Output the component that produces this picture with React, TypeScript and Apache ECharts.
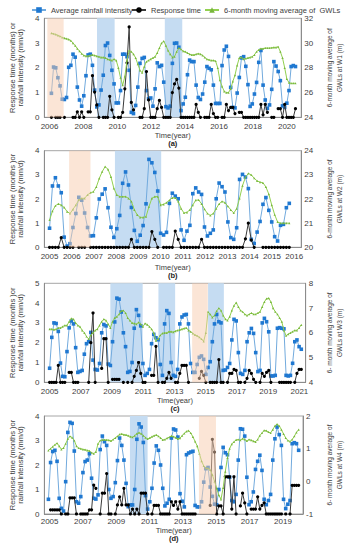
import React, { useEffect, useRef } from "react";
import * as echarts from "echarts";

// ---------- Panel (a) W1 ----------
const spanA = [2006.11, 2020.51];
const blueA = [0.97,2.03,2.0,1.6,1.27,0.73,0.72,0.8,2.02,2.1,
 2.55,2.43,1.22,0.7,0.45,0.87,1.68,2.52,2.55,2.1,
 1.1,0.42,0.5,1.1,1.7,2.9,3.0,2.5,1.9,1.35,
 0.58,0.58,1.08,2.55,2.55,2.45,1.9,0.2,0.15,0.48,
 1.22,2.18,2.38,2.42,1.08,0.75,0.78,0.45,1.15,2.2,
 2.05,2.1,1.42,0.43,0.38,0.45,2.18,2.99,3.0,2.83,
 0.27,0.54,0.81,1.72,2.31,2.25,2.25,1.3,0.8,0.72,
 0.94,1.42,2.05,1.98,1.92,1.3,0.56,0.56,0.56,2.09,
 2.72,2.87,2.46,1.21,0.4,0.38,0.98,1.61,2.4,2.45,
 2.06,1.32,0.44,0.54,0.94,1.41,2.22,2.7,1.3,0.7,
 0.36,0.5,1.13,2.25,2.07,1.85,1.48,0.46,0.4,0.57,
 1.08,2.05,2.09,2.05];
const blackA = [0,null,0,0,0,null,0,null,null,null,
 0,0,0.22,0,0.22,0,null,0.22,0.22,1.68,
 1.02,0.5,0,null,0,0,0,0.85,0.3,0,
 null,0,0,0.2,1.15,2.2,3.65,0.6,0.3,null,
 null,0,0,0.35,1.85,0.7,0,0,0,0.35,
 0.68,0.4,0,0,0,0,1.0,1.35,1.53,1.18,
 0,0,0,0,0,0,0,0.52,0.2,0,
 null,0,0,0,0.52,0.15,0,0,null,0,
 0,0.52,0.27,0.4,0.4,0.15,null,0.2,0.2,0,
 0,0,0,0,0,0,0,0.52,0.1,0.52,
 0.2,null,0,0,null,0.35,0.35,0,0.52,0,
 0,0,0,0.35];
const greenA = [30.8,30.75,30.7,30.62,30.55,30.45,30.4,30.35,30.3,30.2,
 30.0,29.8,29.55,29.35,29.15,29.0,28.95,28.95,29.0,29.05,
 29.0,28.95,28.9,28.85,28.85,28.8,28.7,28.65,28.6,28.7,
 28.6,28.0,27.2,26.6,27.3,28.6,29.4,29.3,29.1,28.8,
 28.3,27.8,27.6,28.1,28.5,28.6,28.7,28.8,28.9,29.2,
 29.6,30.0,30.15,29.8,29.4,29.1,28.85,28.9,29.3,29.6,
 29.5,29.35,29.3,29.2,29.1,29.05,29.05,29.1,29.15,29.1,
 29.0,28.85,28.7,28.65,28.6,28.6,28.55,28.0,27.0,26.5,
 26.1,26.0,26.0,26.3,26.9,27.4,28.2,28.8,28.85,28.7,
 28.75,28.8,28.85,28.9,29.05,29.3,29.45,29.55,29.55,29.6,
 29.6,29.6,29.62,29.65,29.65,29.7,29.3,28.8,28.0,27.1,
 26.8,26.75,26.75,26.75];
const bandsA = [
  { from: 2005.87, to: 2006.83, kind: "orange" },
  { from: 2008.8, to: 2009.84, kind: "blue" },
  { from: 2012.8, to: 2013.83, kind: "blue" },
];

// ---------- Panel (b) W2 ----------
const spanB = [2005.0, 2015.78];
const blueB = [0.79,2.54,2.88,2.54,2.26,0.42,0.05,0.15,0.82,1.4,
 2.07,1.95,1.42,0.82,0.47,0.48,1.22,2.0,2.2,2.42,
 1.64,0.83,0.41,0.77,1.32,2.65,3.12,2.58,1.65,0.7,
 0.25,0.5,0.9,1.8,3.64,3.5,3.1,2.33,0.58,0.51,
 0.62,1.82,2.24,2.12,2.01,0.72,0.29,0.67,0.91,2.22,
 2.46,2.29,2.19,0.84,0.47,0.58,0.72,2.01,2.66,2.51,
 2.29,1.05,0.4,0.33,0.81,2.81,3.02,2.91,2.43,0.33,
 0.16,0.63,1.07,1.78,2.06,1.53,1.05,0.44,0.26,0.91,
 0.95,1.64,1.82];
const blackB = [0,0,0,0,0.4,0,0,0,0,null,
 0,0,0,null,0,0,0,0,0,0,
 0,0,0,0,0,0,0,0,0.33,0,
 0,0,0,0,0,0.65,0.33,0,null,0,
 0,0,0,0.67,0.33,0,0,0,0,0,
 0,0,0.33,0,0,0,0,0,0,0,
 0,0,0,0,0,0,0,0.35,1.0,0.3,
 0,null,null,0,0,0,0,0,0,0,
 0,0,0];
const greenB = [21.13,21.5,21.72,21.8,21.75,21.65,21.48,21.4,21.57,21.75,
 21.96,22.03,22.03,22.17,22.26,22.3,22.5,22.85,23.13,23.34,
 23.23,22.92,22.44,22.17,22.1,22.1,22.1,22.03,21.9,21.55,
 21.34,21.24,21.24,21.27,21.68,22.03,22.1,22.1,21.75,21.78,
 21.85,21.95,22.05,22.05,21.9,21.6,21.42,21.45,21.55,21.75,
 21.95,21.96,21.8,21.58,21.4,21.32,21.4,21.6,21.8,21.9,
 21.85,21.7,21.55,21.42,21.6,22.03,22.55,22.9,23.06,23.0,
 22.86,22.75,22.7,22.67,22.5,22.2,21.75,21.35,21.05,21.0,
 21.0,21.0,21.0];
const bandsB = [
  { from: 2005.88, to: 2006.84, kind: "orange" },
  { from: 2007.94, to: 2010.02, kind: "blue" },
];

// ---------- Panel (c) W3 ----------
const spanC = [2005.0, 2021.12];
const blueC = [0.71,2.27,3.0,2.97,2.57,0.97,0.3,0.28,1.55,2.75,
 3.1,2.95,1.75,0.5,0.55,0.6,1.42,1.95,2.05,2.52,
 1.12,0.65,0.62,0.95,2.5,2.92,2.85,0.92,0.85,2.05,
 3.05,4.25,4.2,3.55,2.5,1.8,0.5,0.55,1.0,2.73,
 3.67,3.38,2.85,0.95,0.35,0.45,0.65,1.95,2.42,2.25,
 2.15,0.9,0.35,2.95,3.62,3.48,1.0,0.35,0.3,0.65,
 2.95,3.3,3.4,3.43,2.95,0.95,0.5,0.5,0.9,1.26,
 1.33,1.16,0.4,0.75,1.04,2.05,2.95,3.43,3.06,3.0,
 0.6,0.62,0.75,0.95,2.14,3.18,3.1,1.5,0.45,0.4,
 0.6,2.05,2.5,2.72,2.47,1.5,0.54,0.6,3.0,3.23,
 3.06,2.55,0.32,0.32,0.35,2.73,2.76,2.73,2.7,0.35,
 0.32,0.35,0.96,2.05,2.14,1.8,1.67];
const blackC = [0,0,0,0,0.85,0,0,0,null,0.5,
 0.5,0,0,0,null,null,null,null,0,2.0,
 3.5,0,null,null,0.7,2.2,2.2,0,null,0.15,
 0.15,0.15,0.15,null,0,null,0,null,0,0.3,
 0.6,1.0,0.45,0,0,null,null,0.35,0.35,1.82,
 0,null,0,0,0.2,0.5,0.2,null,0,0,
 0.45,0.85,0.85,0.85,0,null,null,null,null,0.2,
 0.55,0.35,0,null,0,0,0,0,1.15,0,
 0,null,0,0.45,0.45,0.65,0.6,0,0,null,
 0,0.2,0.6,0.45,0.15,0,null,0,0.45,0.3,
 0.5,0.6,0,null,null,null,0,0,0,0,
 0,0,null,0,0.45,0.65,0.65];
const greenC = [6.15,6.15,6.13,6.15,6.2,6.2,6.25,6.3,6.3,6.45,
 6.58,6.55,6.4,6.3,6.25,6.1,6.0,5.85,5.75,5.9,
 6.0,6.1,6.15,6.3,6.45,6.55,6.5,6.35,6.2,6.45,
 6.6,6.65,6.75,6.88,6.9,6.8,6.6,6.5,6.4,6.38,
 6.35,6.42,6.35,6.25,6.38,6.33,6.25,6.15,6.0,5.68,
 5.75,5.9,5.98,6.0,6.0,6.05,6.05,6.03,6.07,6.1,
 6.12,6.15,6.18,6.2,6.1,6.05,5.98,5.92,5.88,5.82,
 5.75,5.65,6.0,6.85,6.75,6.62,6.7,6.88,7.0,6.9,
 6.7,6.55,6.5,6.65,6.9,7.1,7.22,7.05,6.9,6.85,
 6.75,6.7,6.75,6.8,6.75,6.75,6.8,6.85,7.05,7.25,
 7.38,7.4,7.25,7.0,6.85,6.75,6.6,6.45,6.1,5.88,
 5.95,6.0,6.05,6.1,6.1,6.2,6.32];
const bandsC = [
  { from: 2008.89, to: 2010.96, kind: "blue" },
  { from: 2011.97, to: 2013.04, kind: "blue" },
  { from: 2014.13, to: 2015.13, kind: "orange" },
  { from: 2015.15, to: 2016.16, kind: "blue" },
];

// ---------- Panel (d) W4 ----------
const spanD = [2004.93, 2019.94];
const blueD = [0.6,2.1,2.55,2.6,2.15,0.64,0.23,0.12,1.32,3.33,
 3.74,3.7,2.57,0.5,0.44,0.71,1.69,2.14,2.2,2.46,
 1.46,0.64,0.61,0.78,2.63,3.18,2.95,2.8,1.0,0.64,
 0.71,1.28,2.18,3.1,2.8,2.2,1.25,0.3,0.37,0.37,
 1.0,3.05,3.68,3.55,2.92,0.75,0.2,0.5,1.05,2.08,
 2.78,2.6,2.0,1.05,0.33,0.44,0.6,3.1,3.47,3.43,
 3.14,0.83,0.52,0.29,2.42,2.49,2.53,2.56,0.35,0.29,
 0.29,0.5,1.3,1.85,1.9,1.1,0.72,0.4,0.38,1.0,
 1.9,2.72,2.5,2.42,1.5,0.55,0.5,0.8,2.2,3.48,
 3.46,3.18,1.5,0.38,0.5,0.9,1.82,2.15,2.4,1.78,
 0.6,0.38,0.55,0.8,2.2,3.07,3.55,3.24,2.8,0.6,
 0.22,0.4,0.55,2.87,2.91,2.87,2.6];
const blackD = [null,0.17,0.17,0.17,0.17,0.17,0,null,0,0,
 0.66,0.66,0.66,0,null,0,0,0,0,0.17,
 0.17,1.18,1.05,null,0,0.85,0.85,1.65,0,0,
 null,0,0.37,0.7,0.37,1.05,0.37,0.37,0,0.2,
 0,0.2,0,0.85,0.85,0.85,0,null,0,0.35,
 0.35,0.35,0,0,0,0,0,0.5,0.35,0.5,
 0.2,0.5,0,0,0,0,0,0,0,null,
 null,null,null,null,null,0.35,3.05,2.53,0,0.33,
 0.33,0,1.52,1.52,1.52,0.2,1.52,0,null,0.33,
 0.85,0.45,0,null,0.2,0.2,0.2,0.7,0.2,0.35,
 0.45,0,0,0,0,0,0,0,0,null,
 0,null,0,1.17,1.17,1.17,1.17];
const greenD = [0.95,1.0,1.06,1.12,1.17,1.08,0.98,1.02,1.15,1.3,
 1.38,1.34,1.25,1.08,1.02,1.0,0.98,0.97,0.95,0.93,
 0.88,0.85,0.9,1.15,1.25,1.27,1.27,1.27,1.26,1.24,
 1.28,1.33,1.38,1.44,1.45,1.43,1.42,1.4,1.37,1.35,
 1.4,1.46,1.49,1.46,1.4,1.34,1.3,1.33,1.37,1.4,
 1.42,1.38,1.33,1.27,1.28,1.32,1.35,1.39,1.37,1.34,
 1.3,1.32,1.4,1.47,1.53,1.55,1.48,1.36,1.22,1.08,
 0.85,0.62,0.47,0.4,0.4,0.35,0.2,0.0,-0.22,-0.42,
 -0.55,-0.2,0.3,0.72,1.0,1.14,1.21,1.27,1.28,1.26,
 1.31,1.28,1.24,1.28,1.26,1.23,1.21,1.28,1.4,1.48,
 1.56,1.55,1.51,1.48,1.58,1.7,1.75,1.7,1.58,1.45,
 1.33,1.25,1.22,1.28,1.38,1.5,1.58];
const bandsD = [
  { from: 2009.82, to: 2010.88, kind: "blue" },
  { from: 2013.96, to: 2014.98, kind: "orange" },
];

const NAME_BLUE = "Average rainfall intensity";
const NAME_BLACK = "Response time";
const NAME_GREEN = "6-month moving average of  GWLs";

const FONT = "'Liberation Sans', Arial, sans-serif";
const TXT = "#404040";
const AXIS = "#8c8c8c";

function pairs(vals: (number | null)[], n: number, span: number[]) {
  const out: (number | null)[][] = [];
  for (let i = 0; i < n; i++) {
    const x = span[0] + ((span[1] - span[0]) * i) / (n - 1);
    out.push([x, vals[i] === undefined ? null : vals[i]]);
  }
  return out;
}

const panels = [
  { tag: "(a)", top: 18.3, height: 99, right: 37, xMin: 2005.693, xMax: 2020.848, step: 2, parity: 0,
    leftMax: 4, rMin: 24, rMax: 32, rInt: 2, blue: blueA, black: blackA, green: greenA, span: spanA, bands: bandsA,
    leftName: "Response time (months) or\nrainfall intensity (mm/d)", rightName: "6-month moving average of\nGWLs at W1 (m)",
    xNameGap: 11.8, labelMargin: 5 },
  { tag: "(b)", top: 150.7, height: 96.6, right: 37, xMin: 2004.766, xMax: 2016.316, step: 1, parity: 0,
    leftMax: 4, rMin: 20, rMax: 24, rInt: 1, blue: blueB, black: blackB, green: greenB, span: spanB, bands: bandsB,
    leftName: "Response time (months )or\nrainfall intensity (mm/d)", rightName: "6-month moving average of\nGWLs at W2 (m)",
    xNameGap: 16, labelMargin: 5 },
  { tag: "(c)", top: 283.3, height: 99, right: 36, xMin: 2004.662, xMax: 2021.4, step: 2, parity: 1,
    leftMax: 5, rMin: 4, rMax: 8, rInt: 1, blue: blueC, black: blackC, green: greenC, span: spanC, bands: bandsC,
    leftName: "Response time (months )or\nrainfall intensity (mm/d)", rightName: "6- month moving average of\nGWLs at W3 (m)",
    xNameGap: 11.2, labelMargin: 5.5 },
  { tag: "(d)", top: 416, height: 98, right: 37, xMin: 2004.686, xMax: 2020.2, step: 2, parity: 1,
    leftMax: 4, rMin: -1, rMax: 2, rInt: 1, blue: blueD, black: blackD, green: greenD, span: spanD, bands: bandsD,
    leftName: "Response time (months )or\nrainfall intensity (mm/d)", rightName: "6- month moving average of\nGWLs at W4 (m)",
    xNameGap: 10.2, labelMargin: 3.5 },
];

export default function App() {
  const ref = useRef<HTMLDivElement>(null);
  useEffect(() => {
    const chart = echarts.init(ref.current as HTMLDivElement, undefined, { renderer: "svg" });
    const grid: any[] = [];
    const xAxis: any[] = [];
    const yAxis: any[] = [];
    const series: any[] = [];
    panels.forEach((p, k) => {
      grid.push({ left: 35, right: p.right, top: p.top, height: p.height, show: true, borderColor: "#a6a6a6", borderWidth: 1 });
      xAxis.push({
        type: "value", gridIndex: k, min: p.xMin, max: p.xMax, minInterval: 1, maxInterval: 1,
        axisLine: { show: true, lineStyle: { color: AXIS } }, axisTick: { show: false }, splitLine: { show: false },
        axisLabel: {
          fontSize: 8, color: TXT, fontFamily: FONT, margin: p.labelMargin,
          formatter: (v: number) => {
            const r = Math.round(v);
            if (Math.abs(v - r) > 1e-6) return "";
            if (p.step === 2 && (((r % 2) + 2) % 2) !== p.parity) return "";
            return String(r);
          },
        },
        name: "{t|Time(year)}\n{b|" + p.tag + "}", nameLocation: "middle", nameGap: p.xNameGap,
        nameTextStyle: {
          fontFamily: FONT, color: TXT, fontSize: 7.5,
          rich: {
            t: { fontSize: 7.5, lineHeight: 8.3, color: TXT, fontFamily: FONT },
            b: { fontSize: 7.5, lineHeight: 8.3, color: "#222", fontWeight: "bold", fontFamily: FONT },
          },
        },
      });
      yAxis.push({
        type: "value", gridIndex: k, position: "left", min: 0, max: p.leftMax, interval: 1,
        axisLine: { show: true, lineStyle: { color: AXIS } }, axisTick: { show: false }, splitLine: { show: false },
        axisLabel: { fontSize: 8, color: TXT, fontFamily: FONT, margin: 5 },
        name: p.leftName, nameLocation: "middle", nameGap: 11,
        nameTextStyle: { fontSize: 7.5, lineHeight: 8, color: TXT, fontFamily: FONT },
      });
      yAxis.push({
        type: "value", gridIndex: k, position: "right", min: p.rMin, max: p.rMax, interval: p.rInt,
        axisLine: { show: true, lineStyle: { color: AXIS } }, axisTick: { show: false }, splitLine: { show: false },
        axisLabel: { fontSize: 8, color: TXT, fontFamily: FONT, margin: 3 },
        name: p.rightName, nameLocation: "middle", nameGap: 13,
        nameTextStyle: { fontSize: 6.5, lineHeight: 10, color: TXT, fontFamily: FONT },
      });
      const n = p.blue.length;
      series.push({
        name: NAME_BLUE, type: "line", xAxisIndex: k, yAxisIndex: 2 * k, data: pairs(p.blue, n, p.span),
        symbol: "rect", symbolSize: 3.6, lineStyle: { color: "#72aadd", width: 1 }, itemStyle: { color: "#1f78d1" }, z: 3,
      });
      series.push({
        name: NAME_BLACK, type: "line", xAxisIndex: k, yAxisIndex: 2 * k, data: pairs(p.black, n, p.span),
        symbol: "circle", symbolSize: 3.2, connectNulls: false, lineStyle: { color: "#3a3a3a", width: 1 }, itemStyle: { color: "#000" }, z: 4,
      });
      series.push({
        name: NAME_GREEN, type: "line", xAxisIndex: k, yAxisIndex: 2 * k + 1, data: pairs(p.green, n, p.span),
        symbol: "triangle", symbolSize: 2.2, lineStyle: { color: "#92d050", width: 1 }, itemStyle: { color: "#78b63c" }, z: 5,
      });
      const blueBands = p.bands.filter((b) => b.kind === "blue").map((b) => [{ xAxis: b.from }, { xAxis: b.to }]);
      const orangeBands = p.bands.filter((b) => b.kind === "orange").map((b) => [{ xAxis: b.from }, { xAxis: b.to }]);
      series.push({
        type: "line", xAxisIndex: k, yAxisIndex: 2 * k, data: [], silent: true, z: 1,
        markArea: { silent: true, z: 1, label: { show: false }, itemStyle: { color: "#c5dcf2", opacity: 1 }, data: blueBands },
      });
      series.push({
        type: "line", xAxisIndex: k, yAxisIndex: 2 * k, data: [], silent: true, z: 10,
        markArea: { silent: true, z: 10, label: { show: false }, itemStyle: { color: "#f8cbad", opacity: 0.5 }, data: orangeBands },
      });
    });
    const legendBase = {
      top: 6, padding: 0, itemWidth: 14, itemHeight: 7, selectedMode: false,
      textStyle: { fontSize: 7.5, color: TXT, fontFamily: FONT },
    };
    chart.setOption({
      animation: false,
      backgroundColor: "#fff",
      textStyle: { fontFamily: FONT },
      legend: [
        { ...legendBase, left: 31, data: [NAME_BLUE] },
        { ...legendBase, left: 131, data: [NAME_BLACK] },
        { ...legendBase, left: 204, data: [NAME_GREEN] },
      ],
      grid, xAxis, yAxis, series,
    });
    return () => chart.dispose();
  }, []);
  return <div ref={ref} style={{ position: "fixed", left: 0, top: 0, width: 352, height: 550, background: "#fff" }} />;
}
